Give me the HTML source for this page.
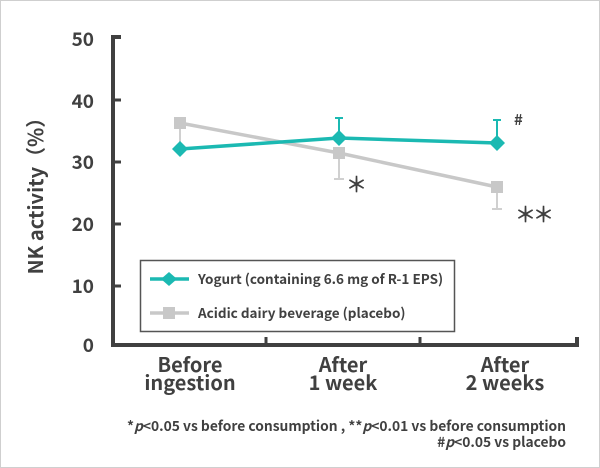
<!DOCTYPE html>
<html><head><meta charset="utf-8"><style>
html,body{margin:0;padding:0;background:#fff;}
svg{display:block;}
text{font-family:"Noto Sans CJK JP","Liberation Sans",sans-serif;fill:#404040;}
</style></head><body>
<svg width="600" height="468" viewBox="0 0 600 468" xmlns="http://www.w3.org/2000/svg">
<rect x="0.5" y="0.5" width="599" height="467" fill="#fff" stroke="#cfcfcf" stroke-width="1"/>
<!-- axes -->
<g stroke="#404040" fill="none">
<polyline points="121,37 113,37 113,345 577,345 577,337" stroke-width="4" stroke-linejoin="miter"/>
<line x1="113" y1="100" x2="121" y2="100" stroke-width="3"/>
<line x1="113" y1="162" x2="121" y2="162" stroke-width="3"/>
<line x1="113" y1="224" x2="121" y2="224" stroke-width="3"/>
<line x1="113" y1="286" x2="121" y2="286" stroke-width="3"/>
<line x1="266" y1="345" x2="266" y2="337" stroke-width="3"/>
<line x1="420" y1="345" x2="420" y2="337" stroke-width="3"/>
</g>
<!-- y tick labels -->
<g font-size="19" font-weight="bold" text-anchor="end">
<text x="94" y="46">50</text>
<text x="94" y="108">40</text>
<text x="94" y="169">30</text>
<text x="94" y="231">20</text>
<text x="94" y="293">10</text>
<text x="94" y="352">0</text>
</g>
<text transform="translate(43,191) rotate(-90)" font-size="20" font-weight="bold" text-anchor="middle">NK activity（%）</text>
<!-- x labels -->
<g font-size="20" font-weight="bold" text-anchor="middle">
<text x="190" y="372">Before</text>
<text x="190" y="390">ingestion</text>
<text x="343" y="372">After</text>
<text x="343" y="390">1 week</text>
<text x="505" y="372">After</text>
<text x="505" y="390">2 weeks</text>
</g>
<!-- placebo -->
<g stroke="#d0d0d0" stroke-width="2" fill="none">
<line x1="180" y1="123" x2="180" y2="142"/>
<line x1="339" y1="153" x2="339" y2="179"/><line x1="334" y1="179" x2="344" y2="179"/>
<line x1="497" y1="187" x2="497" y2="209"/><line x1="492" y1="209" x2="502" y2="209"/>
</g>
<polyline points="180,123 339,153 497,187" fill="none" stroke="#c8c8c8" stroke-width="3.5"/>
<g fill="#c8c8c8">
<rect x="174" y="117" width="12" height="12"/>
<rect x="333" y="147" width="12" height="12"/>
<rect x="491" y="181" width="12" height="12"/>
</g>
<!-- yogurt -->
<g stroke="#1bb9b2" stroke-width="2" fill="none">
<line x1="339" y1="138" x2="339" y2="118"/><line x1="335" y1="118" x2="343" y2="118"/>
<line x1="497" y1="143" x2="497" y2="120"/><line x1="493" y1="120" x2="501" y2="120"/>
</g>
<polyline points="180,149 339,138 497,143" fill="none" stroke="#1bb9b2" stroke-width="3.5"/>
<g fill="#1bb9b2">
<polygon points="180,141 188,149 180,157 172,149"/>
<polygon points="339,130 347,138 339,146 331,138"/>
<polygon points="497,135 505,143 497,151 489,143"/>
</g>
<!-- significance marks -->
<text x="346" y="192" font-size="21" fill="#333" stroke="#333" stroke-width="0.4">＊</text>
<text x="515" y="222" font-size="21" fill="#333" stroke="#333" stroke-width="0.4" letter-spacing="-3">＊＊</text>
<text x="514" y="125" font-size="15" font-weight="bold" fill="#333">#</text>
<!-- legend -->
<rect x="140.5" y="260.5" width="314" height="71" fill="#fff" stroke="#555" stroke-width="1.5"/>
<line x1="150" y1="279" x2="189" y2="279" stroke="#1bb9b2" stroke-width="3.5"/>
<polygon points="169,272 177,279 169,286 161,279" fill="#1bb9b2"/>
<line x1="150" y1="313" x2="189" y2="313" stroke="#c8c8c8" stroke-width="3.5"/>
<rect x="163" y="307" width="12" height="12" fill="#c8c8c8"/>
<g font-size="13.5" font-weight="bold" fill="#333">
<text x="198" y="284">Yogurt (containing 6.6 mg of R-1 EPS)</text>
<text x="198" y="318">Acidic dairy beverage (placebo)</text>
</g>
<!-- footnote -->
<g font-size="13.8" font-weight="bold" text-anchor="end">
<text x="566" y="431">*<tspan font-style="italic">p</tspan>&lt;0.05 vs before consumption , **<tspan font-style="italic">p</tspan>&lt;0.01 vs before consumption</text>
<text x="566" y="447">#<tspan font-style="italic">p</tspan>&lt;0.05 vs placebo</text>
</g>
</svg>
</body></html>
